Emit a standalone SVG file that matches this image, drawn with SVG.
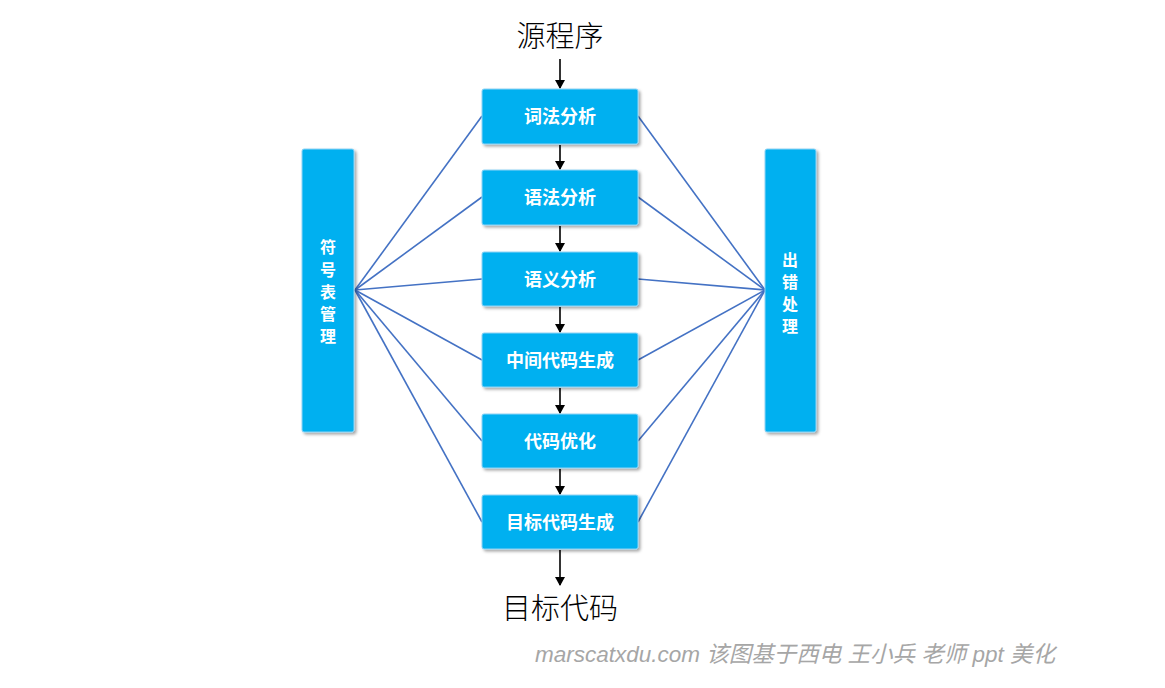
<svg xmlns="http://www.w3.org/2000/svg" width="1165" height="688" viewBox="0 0 1165 688">
<defs>
<style>
.box{fill:#00B0F0;stroke:#8FD3F5;stroke-width:1;filter:url(#sh)}
.bt{font-family:"Noto Sans CJK SC",sans-serif;font-weight:bold;font-size:18px;fill:#fff;text-anchor:middle}
.st{font-family:"Noto Sans CJK SC",sans-serif;font-weight:bold;font-size:16px;fill:#fff;text-anchor:middle}
.big{font-family:"Noto Sans CJK SC",sans-serif;font-weight:300;font-size:29px;fill:#000;text-anchor:middle}
.ln{stroke:#4472C4;stroke-width:1.6;fill:none}
.ar{stroke:#000;stroke-width:1.6;fill:none;marker-end:url(#ah)}
.wm{font-family:"Liberation Sans","Noto Sans CJK SC",sans-serif;font-style:italic;font-size:22.5px;fill:#A6A6A6}
</style>
<filter id="sh" x="-20%" y="-20%" width="140%" height="140%">
<feDropShadow dx="2" dy="2" stdDeviation="1.5" flood-color="#000" flood-opacity="0.35"/>
</filter>
<marker id="ah" markerWidth="9" markerHeight="10" refX="8" refY="5" orient="auto" markerUnits="userSpaceOnUse">
<path d="M0,0 L9,5 L0,10 z" fill="#000"/>
</marker>
</defs>
<rect width="1165" height="688" fill="#fff"/>
<g id="connectors">
<line class="ln" x1="355" y1="290" x2="482" y2="116"/>
<line class="ln" x1="355" y1="290" x2="482" y2="197"/>
<line class="ln" x1="355" y1="290" x2="482" y2="279"/>
<line class="ln" x1="355" y1="290" x2="482" y2="360"/>
<line class="ln" x1="355" y1="290" x2="482" y2="441"/>
<line class="ln" x1="355" y1="290" x2="482" y2="522"/>
<line class="ln" x1="765" y1="290" x2="638" y2="116"/>
<line class="ln" x1="765" y1="290" x2="638" y2="197"/>
<line class="ln" x1="765" y1="290" x2="638" y2="279"/>
<line class="ln" x1="765" y1="290" x2="638" y2="360"/>
<line class="ln" x1="765" y1="290" x2="638" y2="441"/>
<line class="ln" x1="765" y1="290" x2="638" y2="522"/>
<line class="ar" x1="560" y1="59" x2="560" y2="88"/>
<line class="ar" x1="560" y1="145" x2="560" y2="169"/>
<line class="ar" x1="560" y1="226" x2="560" y2="251"/>
<line class="ar" x1="560" y1="307" x2="560" y2="332"/>
<line class="ar" x1="560" y1="388" x2="560" y2="413"/>
<line class="ar" x1="560" y1="469" x2="560" y2="494"/>
<line class="ar" x1="560" y1="550" x2="560" y2="585"/>
</g>
<g id="src"><text class="big" x="560" y="47">源程序</text></g>
<g id="dst"><text class="big" x="560" y="619">目标代码</text></g>
<g id="n1"><rect class="box" x="482" y="89" width="156" height="55" rx="2"/><text class="bt" x="560" y="123">词法分析</text></g>
<g id="n2"><rect class="box" x="482" y="170" width="156" height="55" rx="2"/><text class="bt" x="560" y="204">语法分析</text></g>
<g id="n3"><rect class="box" x="482" y="252" width="156" height="54" rx="2"/><text class="bt" x="560" y="286">语义分析</text></g>
<g id="n4"><rect class="box" x="482" y="333" width="156" height="54" rx="2"/><text class="bt" x="560" y="367">中间代码生成</text></g>
<g id="n5"><rect class="box" x="482" y="414" width="156" height="54" rx="2"/><text class="bt" x="560" y="448">代码优化</text></g>
<g id="n6"><rect class="box" x="482" y="495" width="156" height="54" rx="2"/><text class="bt" x="560" y="529">目标代码生成</text></g>
<g id="left"><rect class="box" x="302" y="149" width="52" height="283" rx="2"/>
<text class="st" x="328" y="253">符</text><text class="st" x="328" y="276">号</text><text class="st" x="328" y="298">表</text><text class="st" x="328" y="320">管</text><text class="st" x="328" y="342">理</text></g>
<g id="right"><rect class="box" x="765" y="149" width="51" height="283" rx="2"/>
<text class="st" x="790" y="266">出</text><text class="st" x="790" y="288">错</text><text class="st" x="790" y="310">处</text><text class="st" x="790" y="332">理</text></g>
<g id="watermark"><text class="wm" x="535" y="662">marscatxdu.com 该图基于西电 王小兵 老师 ppt 美化</text></g>
</svg>
